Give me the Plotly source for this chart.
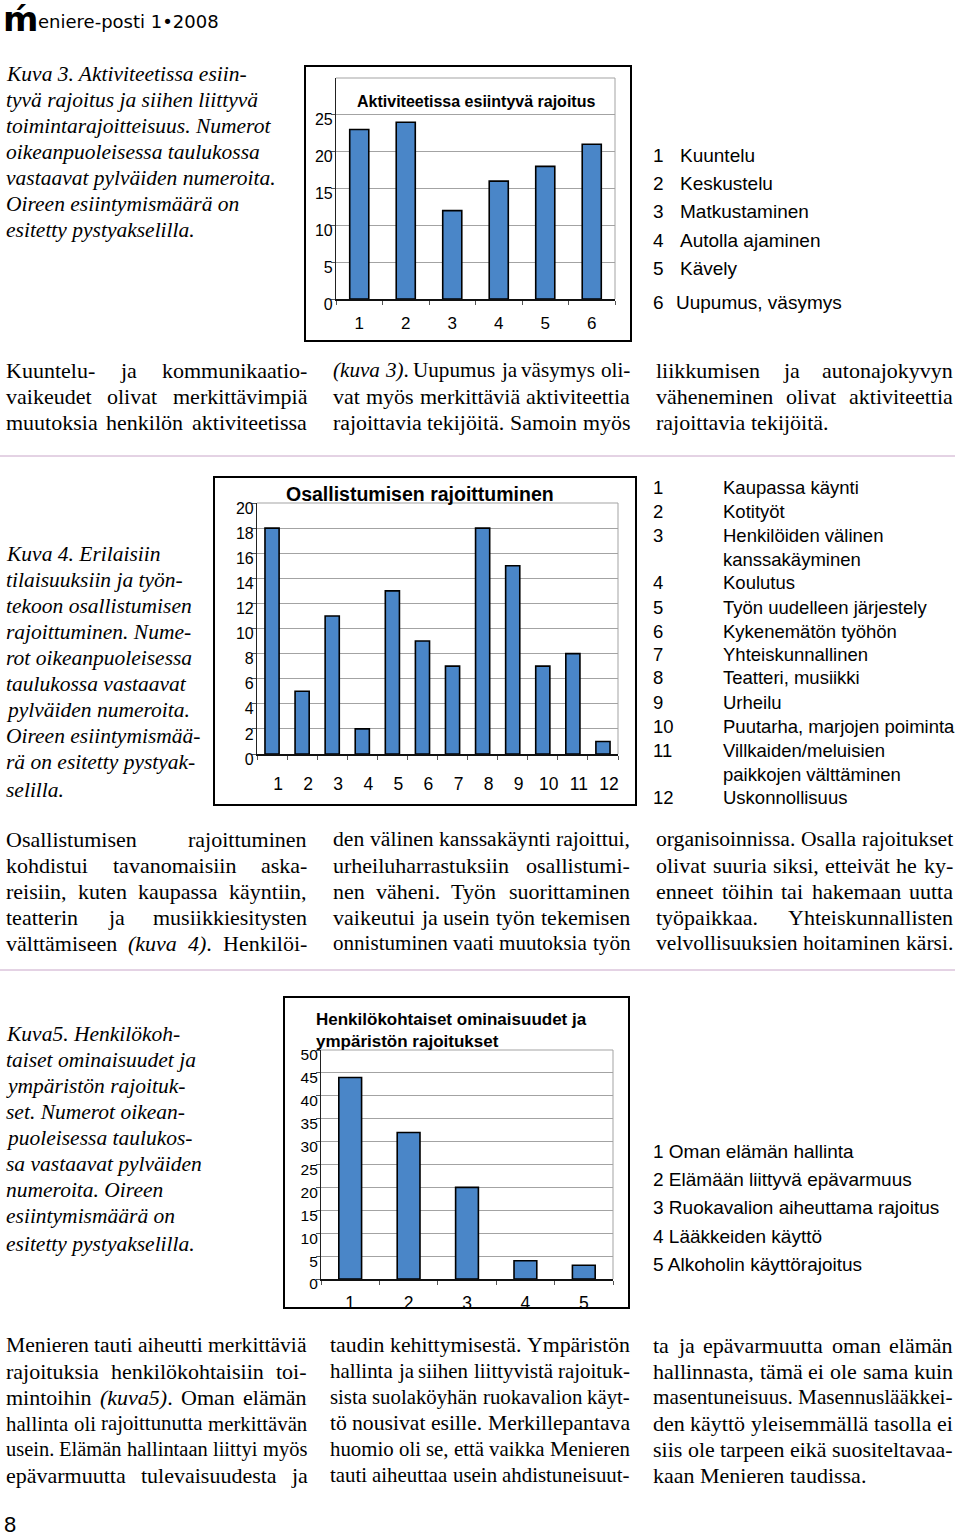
import plotly.graph_objects as go

W, H = 960, 1538


def px(x):
    return x / W


def py(y):
    return 1 - y / H


# ---------------- data ----------------
act_labels = ["1", "2", "3", "4", "5", "6"]
act_values = [23, 24, 12, 16, 18, 21]
act_title = "Aktiviteetissa esiintyvä rajoitus"
act_items = ["Kuuntelu", "Keskustelu", "Matkustaminen", "Autolla ajaminen", "Kävely", "Uupumus, väsymys"]

part_labels = ["1", "2", "3", "4", "5", "6", "7", "8", "9", "10", "11", "12"]
part_values = [18, 5, 11, 2, 13, 9, 7, 18, 15, 7, 8, 1]
part_title = "Osallistumisen rajoittuminen"
part_items = ["Kaupassa käynti", "Kotityöt", "Henkilöiden välinen|kanssakäyminen", "Koulutus",
              "Työn uudelleen järjestely", "Kykenemätön työhön", "Yhteiskunnallinen",
              "Teatteri, musiikki", "Urheilu", "Puutarha, marjojen poiminta",
              "Villkaiden/meluisien|paikkojen välttäminen", "Uskonnollisuus"]

pers_labels = ["1", "2", "3", "4", "5"]
pers_values = [44, 32, 20, 4, 3]
pers_title = ["Henkilökohtaiset ominaisuudet ja", "ympäristön rajoitukset"]
pers_items = ["Oman elämän hallinta", "Elämään liittyvä epävarmuus", "Ruokavalion aiheuttama rajoitus",
              "Lääkkeiden käyttö", "Alkoholin käyttörajoitus"]

header_text = "eniere-posti 1•2008"
page_number = "8"

cap3 = ["Kuva 3. Aktiviteetissa esiin-", "tyvä rajoitus ja siihen liittyvä", "toimintarajoitteisuus. Numerot",
        "oikeanpuoleisessa taulukossa", "vastaavat pylväiden numeroita.", "Oireen esiintymismäärä on",
        "esitetty pystyakselilla."]
cap4 = ["Kuva 4. Erilaisiin", "tilaisuuksiin ja työn-", "tekoon osallistumisen", "rajoittuminen. Nume-",
        "rot oikeanpuoleisessa", "taulukossa vastaavat", "pylväiden numeroita.", "Oireen esiintymismää-",
        "rä on esitetty pystyak-", "selilla."]
cap5 = ["Kuva5. Henkilökoh-", "taiset ominaisuudet ja", "ympäristön rajoituk-", "set. Numerot oikean-",
        "puoleisessa taulukos-", "sa vastaavat pylväiden", "numeroita. Oireen", "esiintymismäärä on",
        "esitetty pystyakselilla."]

body1 = [
    ["Kuuntelu- ja kommunikaatio-", "vaikeudet olivat merkittävimpiä", "muutoksia henkilön aktiviteetissa"],
    ["{(kuva} {3)}. Uupumus ja väsymys oli-", "vat myös merkittäviä aktiviteettia", "rajoittavia tekijöitä. Samoin myös"],
    ["liikkumisen ja autonajokyvyn", "väheneminen olivat aktiviteettia", "rajoittavia tekijöitä."],
]
body2 = [
    ["Osallistumisen rajoittuminen", "kohdistui tavanomaisiin aska-", "reisiin, kuten kaupassa käyntiin,",
     "teatterin ja musiikkiesitysten", "välttämiseen {(kuva} {4)}. Henkilöi-"],
    ["den välinen kanssakäynti rajoittui,", "urheiluharrastuksiin osallistumi-", "nen väheni. Työn suorittaminen",
     "vaikeutui ja usein työn tekemisen", "onnistuminen vaati muutoksia työn"],
    ["organisoinnissa. Osalla rajoitukset", "olivat suuria siksi, etteivät he ky-", "enneet töihin tai hakemaan uutta",
     "työpaikkaa. Yhteiskunnallisten", "velvollisuuksien hoitaminen kärsi."],
]
body3 = [
    ["Menieren tauti aiheutti merkittäviä", "rajoituksia henkilökohtaisiin toi-", "mintoihin {(kuva5)}. Oman elämän",
     "hallinta oli rajoittunutta merkittävän", "usein. Elämän hallintaan liittyi myös", "epävarmuutta tulevaisuudesta ja"],
    ["taudin kehittymisestä. Ympäristön", "hallinta ja siihen liittyvistä rajoituk-", "sista suolaköyhän ruokavalion käyt-",
     "tö nousivat esille. Merkillepantava", "huomio oli se, että vaikka Menieren", "tauti aiheuttaa usein ahdistuneisuut-"],
    ["ta ja epävarmuutta oman elämän", "hallinnasta, tämä ei ole sama kuin", "masentuneisuus. Masennuslääkkei-",
     "den käyttö yleisemmällä tasolla ei", "siis ole tarpeen eikä suositeltavaa-", "kaan Menieren taudissa."],
]

# ---------------- text metrics (Times-compatible) ----------------
TR = dict(zip("abcdefghijklmnopqrstuvwxyz",
              [444, 500, 444, 500, 444, 333, 500, 500, 278, 278, 500, 278, 778, 500, 500, 500, 500, 333, 389, 278, 500, 500, 722, 500, 500, 444]))
TR.update(zip("ABCDEFGHIJKLMNOPQRSTUVWXYZ",
              [722, 667, 667, 722, 611, 556, 722, 722, 333, 389, 722, 611, 889, 722, 722, 556, 722, 667, 556, 611, 722, 722, 944, 722, 722, 611]))
TR.update({" ": 250, ".": 250, ",": 250, "-": 333, "(": 333, ")": 333, "ä": 444, "ö": 500, "Ä": 722, "Ö": 722, "/": 278})
for d in "0123456789":
    TR[d] = 500
TI = dict(zip("abcdefghijklmnopqrstuvwxyz",
              [500, 500, 444, 500, 444, 278, 500, 500, 278, 278, 444, 278, 722, 500, 500, 500, 500, 389, 389, 278, 500, 444, 667, 444, 444, 389]))
TI.update({" ": 250, "(": 333, ")": 333, "K": 667})
for d in "0123456789":
    TI[d] = 500


def wordwidth(word, size):
    total, ital = 0, False
    for ch in word:
        if ch == "{":
            ital = True
            continue
        if ch == "}":
            ital = False
            continue
        total += (TI if ital else TR).get(ch, 500)
    return total * size / 1000


annotations = []
shapes = []

SERIF = "Liberation Serif"
SANS = "Liberation Sans"


def text(x, y, s, size, family=SANS, xanchor="left", yanchor="middle", color="black"):
    annotations.append(dict(x=px(x - (2 if xanchor == "left" else 0)), y=py(y), xref="paper", yref="paper",
                            text=s, showarrow=False, xanchor=xanchor, yanchor=yanchor,
                            font=dict(family=family, size=size, color=color)))


def body_line(x0, x1, y, line, last=False, size=22):
    words = line.split(" ")
    ws = [wordwidth(w, size) for w in words]
    colw = x1 - x0
    sp = 0.25 * size
    nat = sum(ws) + sp * (len(words) - 1)
    f = size
    if nat > colw:
        f = size * colw / nat
        ws = [w * f / size for w in ws]
        gap = 0.25 * f
    elif last or len(words) == 1:
        gap = sp
    else:
        gap = (colw - sum(ws)) / (len(words) - 1)
    x = x0
    for w, wd in zip(words, ws):
        text(x, y, w.replace("{", "<i>").replace("}", "</i>"), f, family=SERIF)
        x += wd + gap


def body_block(cols, xs, ys, last_cols=()):
    for ci, lines in enumerate(cols):
        x0, x1 = xs[ci]
        for li, ln in enumerate(lines):
            is_last = (ci in last_cols) and li == len(lines) - 1
            body_line(x0, x1, ys[li], ln, last=is_last)


# header
text(3, 19, "<b>ḿ</b>", 34, family="DejaVu Sans")
text(38, 21, header_text, 18, family="DejaVu Sans")

# captions
for i, ln in enumerate(cap3):
    text(6, 74 + 26 * i, "<i>" + ln + "</i>", 21.5, family=SERIF)
for i, ln in enumerate(cap4):
    text(6, [554, 580, 606, 632, 658, 684, 710, 736, 762, 790][i], "<i>" + ln + "</i>", 21.5, family=SERIF)
for i, ln in enumerate(cap5):
    text(6, [1034, 1060, 1086, 1112, 1138, 1164, 1190, 1216, 1244][i], "<i>" + ln + "</i>", 21.5, family=SERIF)

# body text
body_block(body1, [(6, 307), (333, 630), (656, 953)], [370, 396, 422], last_cols=(2,))
body_block(body2, [(6, 307), (333, 630), (656, 953)], [839, 865, 891, 917, 943])
body_block(body3, [(6, 307), (330, 630), (653, 953)], [1345, 1371, 1397, 1423, 1449, 1475], last_cols=(2,))

# legends
leg1_y = [155, 183, 211, 240, 269, 302]
for i, it in enumerate(act_items):
    text(653, leg1_y[i], act_labels[i], 19)
    text(680 if i < 5 else 676, leg1_y[i], it, 19)

leg2_y = [487, 511, 535, 583, 607, 631, 654, 678, 702, 726, 750, 797]
for i, it in enumerate(part_items):
    parts = it.split("|")
    text(653, leg2_y[i], part_labels[i], 18.5)
    for j, p in enumerate(parts):
        text(723, leg2_y[i] + 24 * j, p, 18.5)

leg3_y = [1151, 1179, 1207, 1236, 1264]
for i, it in enumerate(pers_items):
    text(653, leg3_y[i], pers_labels[i] + " " + it, 19)

# page number
text(4, 1524, page_number, 22)

# horizontal rules
for yy in (456, 970):
    shapes.append(dict(type="line", xref="paper", yref="paper", x0=0, x1=px(955), y0=py(yy), y1=py(yy),
                       line=dict(color="#c9a6c9", width=1)))

# ---------------- charts ----------------
fig = go.Figure()

BAR = "#4A86C8"
GRID = "#a3a3a3"

charts = [
    dict(labels=act_labels, values=act_values, box=(305, 66, 631, 341), plot=(336, 78, 615, 299),
         rmax=30, tickvals=[0, 5, 10, 15, 20, 25], bw=0.41, yfs=16, xfs=17, xshift=0, standoff=8),
    dict(labels=part_labels, values=part_values, box=(214, 477, 636, 805), plot=(257, 503, 618, 754),
         rmax=20, tickvals=list(range(0, 21, 2)), bw=0.47, yfs=16, xfs=17.5, xshift=6, standoff=13),
    dict(labels=pers_labels, values=pers_values, box=(284, 997, 629, 1308), plot=(321, 1050, 613, 1279),
         rmax=50, tickvals=list(range(0, 51, 5)), bw=0.39, yfs=15.5, xfs=17.5, xshift=0, standoff=7),
]

for k, c in enumerate(charts, start=1):
    xa = "x" if k == 1 else f"x{k}"
    ya = "y" if k == 1 else f"y{k}"
    fig.add_trace(go.Bar(x=c["labels"], y=c["values"], width=c["bw"], xaxis=xa, yaxis=ya,
                         marker=dict(color=BAR, line=dict(color="black", width=1.6)), hoverinfo="skip"))
    l, t, r, b = c["plot"]
    fig.layout[("xaxis" if k == 1 else f"xaxis{k}")] = dict(
        domain=[px(l), px(r)], anchor=ya, type="category", showline=True, linecolor="#111", linewidth=1.5,
        ticks="outside", tickson="boundaries", ticklen=4, tickcolor="#555", showgrid=False,
        tickfont=dict(family=SANS, size=c["xfs"], color="black"), ticklabelshift=c["xshift"],
        ticklabelstandoff=c["standoff"], fixedrange=True, automargin=False)
    fig.layout[("yaxis" if k == 1 else f"yaxis{k}")] = dict(
        domain=[py(b), py(t)], anchor=xa, range=[0, c["rmax"]], tickvals=c["tickvals"],
        showgrid=True, gridcolor=GRID, gridwidth=1, showline=True, linecolor="#222", linewidth=1.2,
        ticks="outside", ticklen=4, tickcolor="#555", zeroline=False, ticklabelshift=5,
        ticklabelstandoff=-5, tickfont=dict(family=SANS, size=c["yfs"], color="black"), fixedrange=True,
        automargin=False)
    # plot area top/right border
    shapes.append(dict(type="line", xref="paper", yref="paper", x0=px(l), x1=px(r), y0=py(t), y1=py(t),
                       line=dict(color=GRID, width=1)))
    shapes.append(dict(type="line", xref="paper", yref="paper", x0=px(r), x1=px(r), y0=py(t), y1=py(b),
                       line=dict(color=GRID, width=1)))
    # outer frame
    bl, bt, br, bb = c["box"]
    shapes.append(dict(type="rect", xref="paper", yref="paper", x0=px(bl), x1=px(br), y0=py(bb), y1=py(bt),
                       line=dict(color="black", width=2), fillcolor="rgba(0,0,0,0)"))

# chart titles
text(476, 101, "<b>" + act_title + "</b>", 16, xanchor="center")
text(420, 494, "<b>" + part_title + "</b>", 19.5, xanchor="center")
text(316, 1020, "<b>" + pers_title[0] + "</b>", 17)
text(316, 1041, "<b>" + pers_title[1] + "</b>", 17)

fig.update_layout(width=W, height=H, margin=dict(l=0, r=0, t=0, b=0, pad=0, autoexpand=False),
                  paper_bgcolor="white", plot_bgcolor="white", showlegend=False,
                  annotations=annotations, shapes=shapes, bargap=0.5)

fig.write_html(
    "out.html",
    config={"displayModeBar": False},
    post_script="document.documentElement.style.margin='0';document.documentElement.style.overflow='hidden';"
                "document.body.style.margin='0';document.body.style.padding='0';document.body.style.overflow='hidden';",
)
